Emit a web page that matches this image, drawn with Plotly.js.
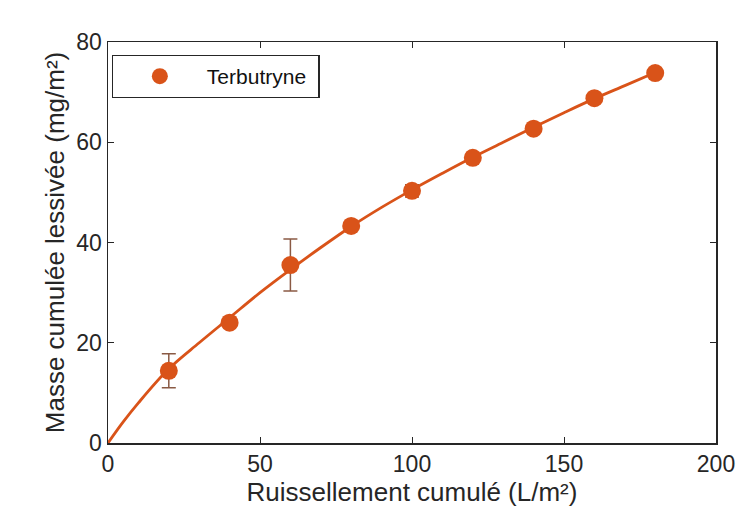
<!DOCTYPE html>
<html><head><meta charset="utf-8">
<script src="https://cdn.plot.ly/plotly-3.0.1.min.js"></script>
<style>body{margin:0;background:#fff}#c{width:744px;height:521px}</style>
</head><body><div id="c"></div>
<script>
const seriesName = "Terbutryne";
const runoff = [20, 40, 60, 80, 100, 120, 140, 160, 180];
const mass = [14.4, 24.0, 35.5, 43.3, 50.3, 56.9, 62.7, 68.8, 73.8];
const massErr = [3.4, 0.6, 5.2, 0.8, 1.2, 0.6, 0.5, 0.5, 0.5];
const fitX = [0, 5, 10, 20, 30, 40, 50, 60, 70, 80, 90, 100, 110, 120, 130, 140, 150, 160, 170, 180];
const fitY = [0, 4.2, 8.0, 14.8, 20.0, 25.0, 30.0, 34.6, 39.0, 43.2, 47.0, 50.5, 53.8, 57.0, 60.0, 63.0, 65.9, 68.7, 71.3, 73.9];
const xTicks = [0, 50, 100, 150, 200];
const yTicks = [0, 20, 40, 60, 80];

const col = '#D95319';
const font = 'Liberation Sans, Arial, sans-serif';
const traces = [
  {x: fitX, y: fitY, mode: 'lines', line: {color: col, width: 2.8, shape: 'spline'}, showlegend: false, hoverinfo: 'skip'},
  {x: runoff, y: mass, name: seriesName, mode: 'markers',
   marker: {color: col, size: 18},
   error_y: {type: 'data', array: massErr, visible: true, color: '#8a5a44', thickness: 1.5, width: 7}}
];
const axisCommon = {
  showline: true, mirror: 'ticks', linecolor: '#262626', linewidth: 1.5,
  ticks: 'inside', ticklen: 6, tickcolor: '#262626', tickwidth: 1,
  showgrid: false, zeroline: false,
  tickfont: {family: font, size: 23, color: '#262626'}
};
const layout = {
  width: 744, height: 521,
  margin: {l: 108, r: 28, t: 42, b: 78},
  paper_bgcolor: '#fff', plot_bgcolor: '#fff',
  xaxis: Object.assign({}, axisCommon, {range: [0, 200], tickvals: xTicks, ticktext: xTicks.map(String),
    title: {text: 'Ruissellement cumulé (L/m²)', standoff: 0, font: {family: font, size: 26, color: '#262626'}}}),
  yaxis: Object.assign({}, axisCommon, {range: [0, 80], tickvals: yTicks, ticktext: yTicks.map(String),
    title: {text: 'Masse cumulée lessivée (mg/m²)', standoff: 4, font: {family: font, size: 26, color: '#262626'}}}),
  legend: {x: 0.006, y: 0.968, xanchor: 'left', yanchor: 'top', orientation: 'h',
    itemwidth: 84,
    entrywidth: 106, entrywidthmode: 'pixels',
    bgcolor: '#fff', bordercolor: '#262626', borderwidth: 1.2,
    font: {family: font, size: 21, color: '#111'}},
  showlegend: true
};
Plotly.newPlot('c', traces, layout, {displayModeBar: false, staticPlot: true});
</script></body></html>
